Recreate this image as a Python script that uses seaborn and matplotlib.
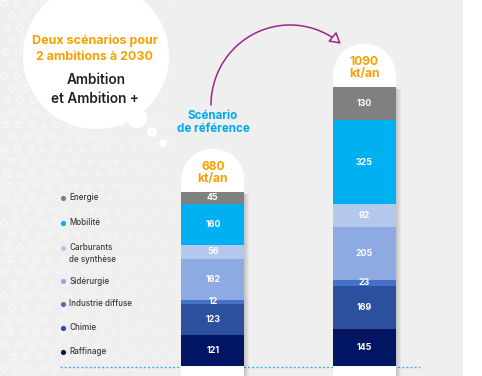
import numpy as np
import pandas as pd
import matplotlib
matplotlib.use("Agg")
import matplotlib.pyplot as plt
import seaborn as sns
from matplotlib.patches import Rectangle, Ellipse, Circle, FancyArrowPatch
from matplotlib.path import Path

# données (kt/an), de bas en haut
secteurs = ["Raffinage", "Chimie", "Industrie diffuse", "Sidérurgie",
            "Carburants de synthèse", "Mobilité", "Energie"]
legende = ["Raffinage", "Chimie", "Industrie diffuse", "Sidérurgie",
           "Carburants\nde synthèse", "Mobilité", "Energie"]
scenarios = ["Référence", "Ambition"]
val_ref = [121, 123, 12, 162, 56, 160, 45]
val_amb = [145, 169, 23, 205, 92, 325, 130]
totaux = ["680", "1090"]
couleurs = ["#011562", "#2c4f9e", "#4472c8", "#8eaae2",
            "#b4c7ec", "#00b0f0", "#808080"]

sns.set_style("white")
plt.rcParams["font.family"] = ["Inter", "DejaVu Sans"]

df = pd.DataFrame({
    "scenario": np.repeat(scenarios, len(secteurs)),
    "secteur": secteurs * 2,
    "valeur": val_ref + val_amb,
})
df["cumul"] = df.groupby("scenario")["valeur"].cumsum()
df["base"] = df["cumul"] - df["valeur"]

W, H = 482, 376
fig = plt.figure(figsize=(W / 100, H / 100), dpi=100)

# fond + décor en pixels
bg = fig.add_axes([0, 0, 1, 1], zorder=0)
bg.set_xlim(0, W)
bg.set_ylim(H, 0)
bg.axis("off")
bg.add_patch(Rectangle((0, 0), 463, H, color="#efefef", lw=0))

# petits anneaux décoratifs
for j in range(32):
    y = 3 + j * 12.2
    for i in range(16):
        x = 4 + i * 13 + (j % 2) * 6.5 + (j % 3) * 1.5
        if x > 185:
            continue
        r = 3.0 * (1 - x / 240)
        bg.add_patch(Circle((x, y), r, fill=False, ec="white", lw=1.0,
                            alpha=0.6 - x / 500))

# bulle
bg.add_patch(Circle((96, 56), 73, color="white", lw=0, zorder=2))
for (cx, cy, r) in [(137, 118, 10), (152, 132, 5), (163, 143, 4)]:
    bg.add_patch(Circle((cx, cy), r, color="white", lw=0, zorder=2))

orange = "#f7a000"
bg.text(95, 41, "Deux scénarios pour", ha="center", va="center",
        color=orange, fontsize=9, fontweight="bold", zorder=3)
bg.text(95, 57, "2 ambitions à 2030", ha="center", va="center",
        color=orange, fontsize=9, fontweight="bold", zorder=3)
bg.text(96, 80, "Ambition", ha="center", va="center",
        color="#222222", fontsize=9.8, fontweight="semibold", zorder=3)
bg.text(95, 99, "et Ambition +", ha="center", va="center",
        color="#222222", fontsize=9.8, fontweight="semibold", zorder=3)

bg.text(213, 116, "Scénario", ha="center", va="center",
        color="#00a9ec", fontsize=8.3, fontweight="bold")
bg.text(213, 129, "de référence", ha="center", va="center",
        color="#00a9ec", fontsize=8.3, fontweight="bold")

# flèche courbe
t = np.radians(np.linspace(180, 50, 80))
arc = np.column_stack([290 + 79 * np.cos(t), 105 - 80 * np.sin(t)])
bg.add_patch(FancyArrowPatch(path=Path(arc),
                             arrowstyle="-|>,head_length=6.5,head_width=3.8",
                             mutation_scale=1, lw=1.1, ec="#a3218e",
                             fc="#efefef"))

# légende
ys = [352, 328, 303.5, 281, 248, 222.5, 198]
for lab, col, y in zip(legende, couleurs, ys):
    bg.scatter([63], [y], s=14, color=col, lw=0)
    if "\n" in lab:
        bg.text(69, y - 4.5, lab, ha="left", va="top", fontsize=5.8,
                color="#3a3a3a", fontweight="medium", linespacing=1.3)
    else:
        bg.text(69, y, lab, ha="left", va="center", fontsize=5.8,
                color="#3a3a3a", fontweight="medium")

# ligne de base pointillée
bg.plot([60, 420], [366.5, 366.5], color="#33b5f0", lw=1,
        ls=(0, (1.5, 1.5)))

# barres
ax = fig.add_axes([0, 0, 1, 1], zorder=1)
ax.patch.set_alpha(0)
px_y = 0.256            # pixels par kt
x0, dx = 212.9, 151.4   # centre barre 1, écart en pixels
bar_w = 63 / dx

for sec, col in zip(reversed(secteurs), reversed(couleurs)):
    sub = df[df["secteur"] == sec]
    sns.barplot(data=sub, x="scenario", y="cumul", order=scenarios,
                color=col, saturation=1, width=bar_w, linewidth=0,
                zorder=4, ax=ax)

ymin = -10 / px_y
ax.set_xlim(-x0 / dx, (W - x0) / dx)
ax.set_ylim(ymin, 366 / px_y)
ax.axis("off")

for i, sc in enumerate(scenarios):
    sub = df[df["scenario"] == sc]
    top = sub["cumul"].max()
    # ombre
    for k in range(1, 6):
        ax.add_patch(Rectangle((i - bar_w / 2 + k / dx, ymin),
                               bar_w, top - ymin - 2 / px_y,
                               color="#000000", alpha=0.035, lw=0, zorder=1))
    # capsule blanche
    ext = 12 / px_y
    ax.add_patch(Rectangle((i - bar_w / 2, ymin), bar_w, top + ext - ymin,
                           color="white", lw=0, zorder=2))
    ax.add_patch(Ellipse((i, top + ext), bar_w, 63 / px_y,
                         color="white", lw=0, zorder=2))
    ax.text(i, top + 25 / px_y, totaux[i], ha="center", va="center",
            color=orange, fontsize=8.7, fontweight="bold", zorder=5)
    ax.text(i, top + 13 / px_y, "kt/an", ha="center",
            va="center", color=orange, fontsize=8.7, fontweight="bold",
            zorder=5)
    for _, row in sub.iterrows():
        ax.text(i, row["base"] + row["valeur"] / 2, str(row["valeur"]),
                ha="center", va="center", color="white", fontsize=6.4,
                fontweight="bold", zorder=5)

fig.savefig("out.png", dpi=100, facecolor="white")
